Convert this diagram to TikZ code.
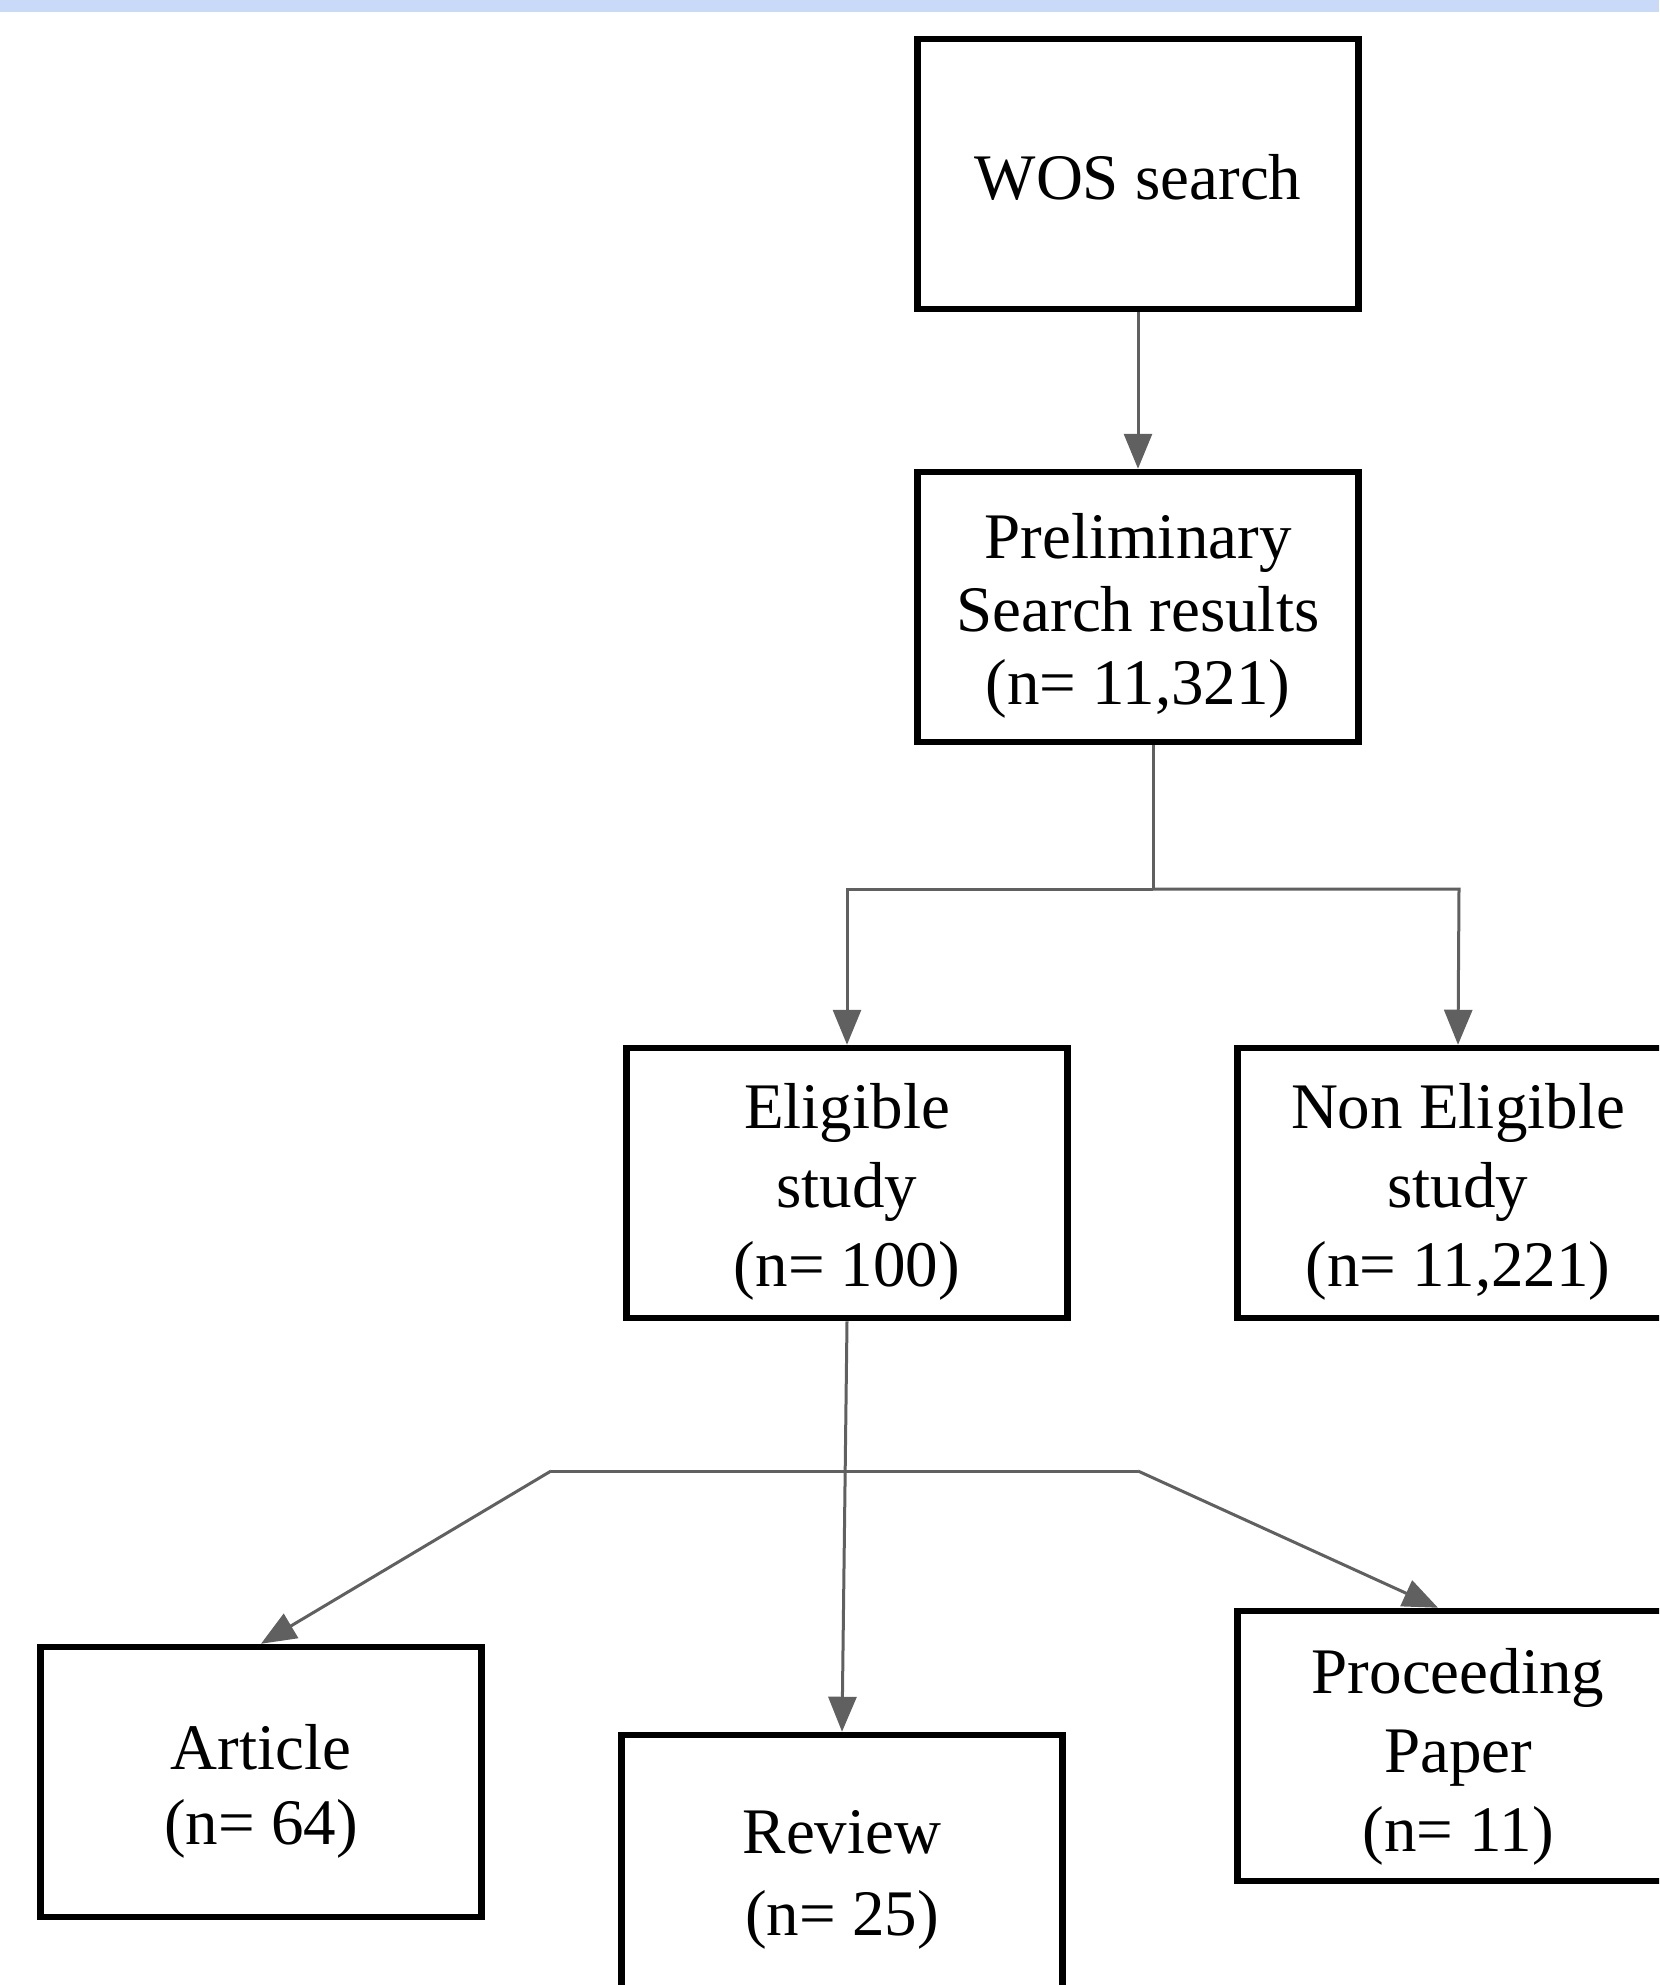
\documentclass[tikz,border=0pt]{standalone}
\usepackage{fontspec}
\setmainfont{Liberation Serif}
\usetikzlibrary{arrows.meta}
\definecolor{band}{HTML}{C9DAF8}
\definecolor{conn}{HTML}{606060}
\tikzset{
  box/.style={draw=black, line width=6.5pt, rectangle, minimum width=441pt, minimum height=270pt, inner sep=0pt},
  txt/.style={inner sep=0pt, align=center, font=\fontsize{65}{79}\selectfont},
  link/.style={draw=conn, line width=3pt},
  arr/.style={link, -{Triangle[length=35pt,width=28pt]}}
}
\begin{document}
\begin{tikzpicture}[x=1pt,y=-1pt]
\clip (0,0) rectangle (1659,1985);
\fill[white] (0,0) rectangle (1659,1985);
\fill[band] (0,0) rectangle (1659,12);

\node[box] (wos) at (1138,174) {};
\node[box] (prelim) at (1138,607) {};
\node[box] (elig) at (847,1183) {};
\node[box] (nonelig) at (1458,1183) {};
\node[box] (article) at (261,1782) {};
\node[box] (review) at (842,1870) {};
\node[box] (proc) at (1458,1746) {};

\node[txt] (wos-t) at ([yshift=-3pt]wos.center) {WOS search};
\node[txt, font=\fontsize{65}{73}\selectfont] (prelim-t) at ([yshift=-9pt]prelim.center) {Preliminary\\Search results\\(n= 11,321)};
\node[txt] (elig-t) at ([yshift=-9pt]elig.center) {Eligible\\study\\(n= 100)};
\node[txt] (nonelig-t) at ([yshift=-9pt]nonelig.center) {Non Eligible\\study\\(n= 11,221)};
\node[txt, font=\fontsize{65}{75}\selectfont] (article-t) at ([yshift=-9pt]article.center) {Article\\(n= 64)};
\node[txt, font=\fontsize{65}{82}\selectfont] (review-t) at ([yshift=-10pt]review.center) {Review\\(n= 25)};
\node[txt] (proc-t) at ([yshift=-11pt]proc.center) {Proceeding\\Paper\\(n= 11)};

\coordinate (p1) at (1153,889);
\coordinate (pl) at (847,889);
\coordinate (pr) at (1459,889);
\coordinate (el) at (551,1471);
\coordinate (er) at (1138,1471);

\draw[arr] (wos.south) -- (prelim.north);
\draw[link] ([xshift=15pt]prelim.south) -- (p1);
\draw[arr] (p1) -- (pl) -- (elig.north);
\draw[arr] (p1) -- (pr) -- (nonelig.north);
\draw[arr] (elig.south) -- (review.north);
\draw[link] (el) -- (er);
\draw[arr] (el) -- (article.north);
\draw[arr] (er) -- ([xshift=-20pt]proc.north);
\end{tikzpicture}
\end{document}
